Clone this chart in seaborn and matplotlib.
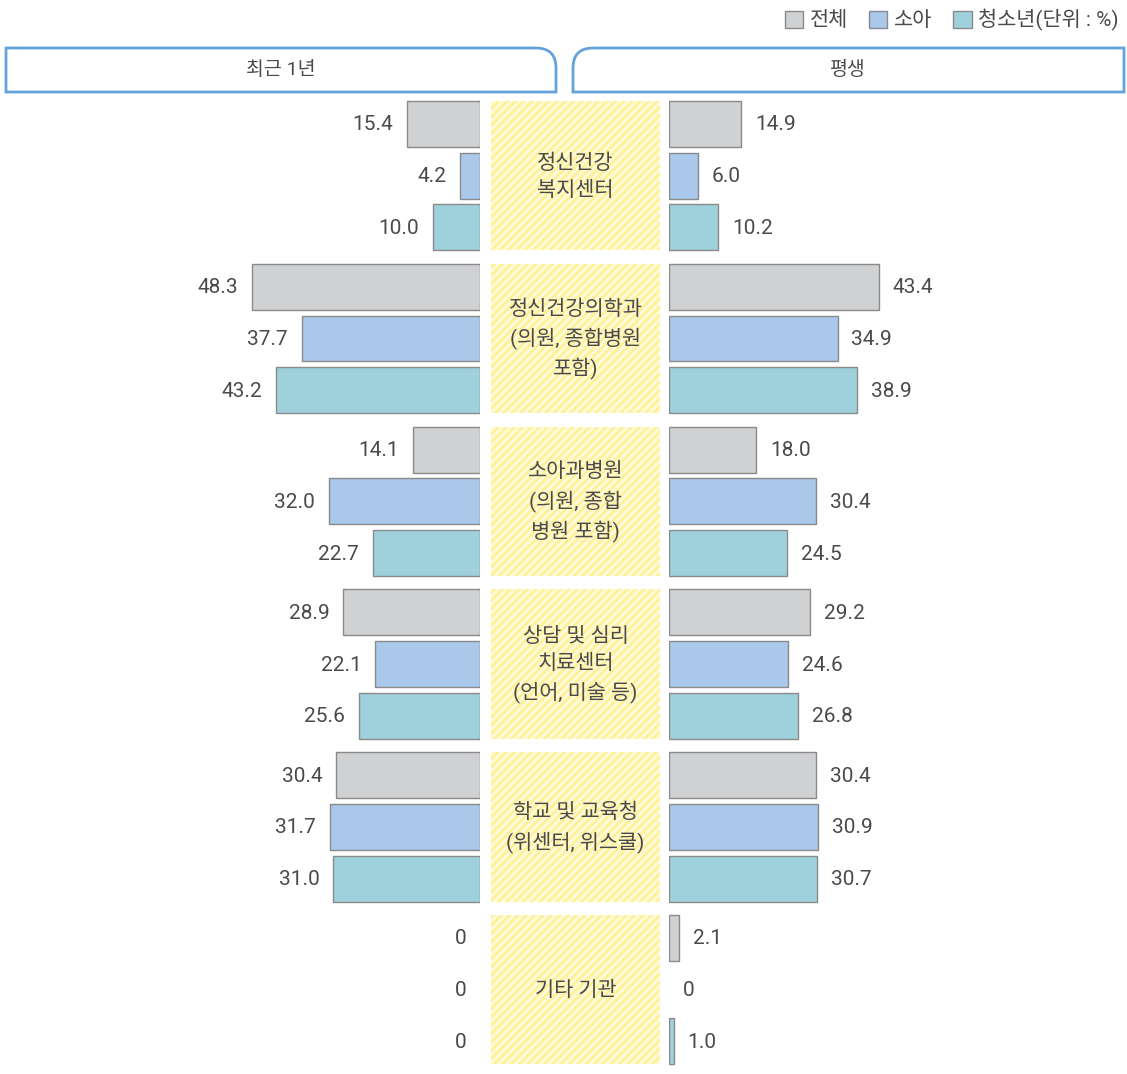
import numpy as np
import pandas as pd
import seaborn as sns
import matplotlib.pyplot as plt
from matplotlib.patches import Patch, Rectangle, PathPatch
from matplotlib.path import Path

# data
categories = ['정신건강\n복지센터',
              '정신건강의학과\n(의원, 종합병원\n포함)',
              '소아과병원\n(의원, 종합\n병원 포함)',
              '상담 및 심리\n치료센터\n(언어, 미술 등)',
              '학교 및 교육청\n(위센터, 위스쿨)',
              '기타 기관']
series = ['전체', '소아', '청소년']
recent_total = [15.4, 48.3, 14.1, 28.9, 30.4, 0]
recent_child = [4.2, 37.7, 32.0, 22.1, 31.7, 0]
recent_youth = [10.0, 43.2, 22.7, 25.6, 31.0, 0]
life_total = [14.9, 43.4, 18.0, 29.2, 30.4, 2.1]
life_child = [6.0, 34.9, 30.4, 24.6, 30.9, 0]
life_youth = [10.2, 38.9, 24.5, 26.8, 30.7, 1.0]
panel_titles = ['최근 1년', '평생']
legend_note = '(단위 : %)'

colors = ['#d0d1d3', '#a9c8ea', '#9fd1dc']
edge = '#8a8a8a'
txt = '#4a4a4a'

sns.set_style('white')
plt.rcParams['font.family'] = ['Roboto', 'Noto Sans CJK KR', 'DejaVu Sans']
plt.rcParams['hatch.linewidth'] = 2.0

W, H = 1127, 1074
fig = plt.figure(figsize=(W / 100, H / 100), dpi=100)

# background axes in pixel coordinates
bg = fig.add_axes([0, 0, 1, 1])
bg.set_xlim(0, W)
bg.set_ylim(H, 0)
bg.axis('off')

# bar positions (pixel rows)
y0, gstep, bstep, bh = 124, 162.8, 51.7, 46


def pos(g, j):
    return y0 + g * gstep + j * bstep


def make_df(vals):
    rows = []
    for j, s in enumerate(series):
        for g in range(len(categories)):
            v = vals[j][g]
            if v > 0:
                rows.append({'pos': pos(g, j), 'value': v, 'series': s})
    return pd.DataFrame(rows)


left_vals = [recent_total, recent_child, recent_youth]
right_vals = [life_total, life_child, life_youth]

axL = fig.add_axes([0, 0, 480 / W, 1])
axR = fig.add_axes([669 / W, 0, (W - 669) / W, 1])

for ax, vals, xmax, side in [(axL, left_vals, 480 / 4.73, -1), (axR, right_vals, (W - 669) / 4.83, 1)]:
    df = make_df(vals)
    sns.barplot(data=df, x='value', y='pos', hue='series', hue_order=series,
                palette=colors, saturation=1, orient='y', native_scale=True, dodge=False,
                width=bh / bstep, edgecolor=edge, linewidth=1, errorbar=None,
                legend=False, ax=ax)
    ax.set_ylim(H, 0)
    if side < 0:
        ax.set_xlim(xmax, 0)
    else:
        ax.set_xlim(0, xmax)
    ax.axis('off')
    ax.patch.set_alpha(0)
    for j in range(3):
        for g in range(len(categories)):
            v = vals[j][g]
            lab = '0' if v == 0 else f'{v:.1f}'
            ax.annotate(lab, (v, pos(g, j) + 1), xytext=(10 * side, 0), textcoords='offset points',
                        ha='right' if side < 0 else 'left', va='center', fontsize=15, color=txt)

# category boxes
for g, cat in enumerate(categories):
    top = pos(g, 0) - bh / 2
    bot = pos(g, 2) + bh / 2
    bg.add_patch(Rectangle((491, top), 169, bot - top, facecolor='#fffbd6',
                           edgecolor='#fff09a', linewidth=0, hatch='////'))
    bg.text(575.5, (top + bot) / 2 + 1, cat, ha='center', va='center', fontsize=15,
            color=txt, linespacing=1.5)

# header boxes with one rounded corner
r = 20
left_path = Path([(6, 92), (6, 48), (556 - r, 48), (556, 48), (556, 48 + r), (556, 92), (6, 92)],
                 [Path.MOVETO, Path.LINETO, Path.LINETO, Path.CURVE3, Path.CURVE3, Path.LINETO, Path.CLOSEPOLY])
right_path = Path([(573, 92), (573, 48 + r), (573, 48), (573 + r, 48), (1124, 48), (1124, 92), (573, 92)],
                  [Path.MOVETO, Path.LINETO, Path.CURVE3, Path.CURVE3, Path.LINETO, Path.LINETO, Path.CLOSEPOLY])
for p in [left_path, right_path]:
    bg.add_patch(PathPatch(p, facecolor='white', edgecolor='#64a3da', linewidth=2))
bg.text(281, 70, panel_titles[0], ha='center', va='center', fontsize=14, color=txt)
bg.text(848, 70, panel_titles[1], ha='center', va='center', fontsize=14, color=txt)

# legend
handles = [Patch(facecolor=c, edgecolor=edge, linewidth=1) for c in colors]
labels = series[:2] + [series[2] + legend_note]
fig.legend(handles, labels, loc='upper right', bbox_to_anchor=(1.009, 1.009), ncol=3,
           frameon=False, fontsize=15, handlelength=0.9, handleheight=0.9,
           handletextpad=0.3, columnspacing=1.0, labelcolor=txt)

fig.savefig('out.png', dpi=100)
